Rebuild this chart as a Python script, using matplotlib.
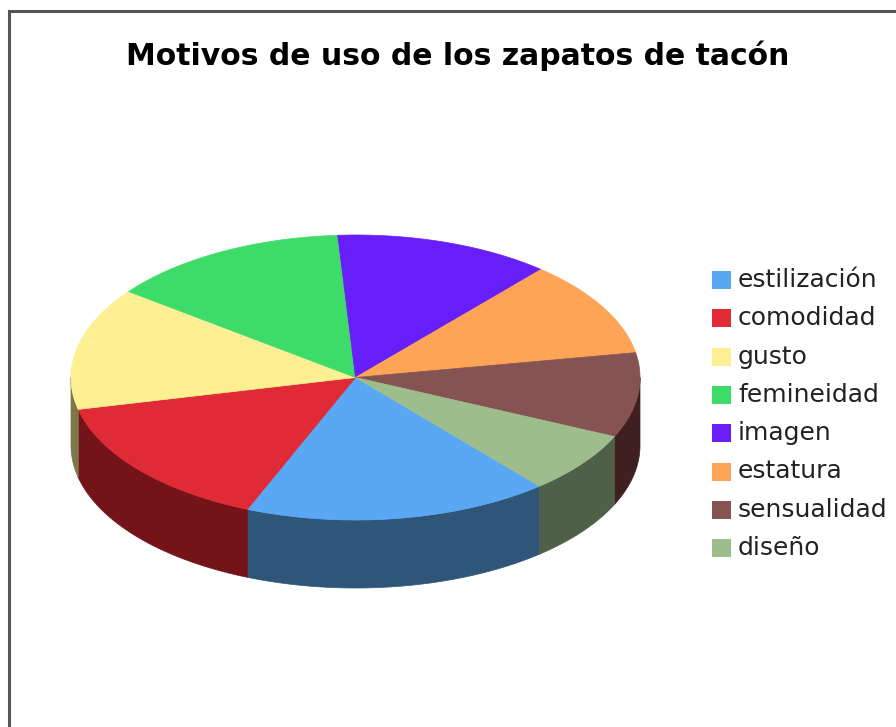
import matplotlib
matplotlib.use("Agg")
import matplotlib.pyplot as plt
import numpy as np
from matplotlib.patches import Polygon, Rectangle

# data (share, %)
labels = ["estilización", "comodidad", "gusto", "femineidad",
          "imagen", "estatura", "sensualidad", "diseño"]
values = [17.4, 15.2, 13.9, 13.7, 12.3, 10.9, 9.6, 7.0]

top_colors = ["#5aa8f4", "#e02a36", "#fdef92", "#3ddc68",
              "#671ef8", "#fda457", "#855352", "#9ebd8c"]
side_colors = ["#2f5679", "#741418", "#7d7646", "#1f7a3c",
               "#3a1090", "#8f5a2c", "#3f1f1f", "#4f6049"]

title = "Motivos de uso de los zapatos de tacón"

# geometry in pixel space
W, H = 896, 727
cx, cy = 355.5, 377.5
rx, ry = 284.5, 142.5
depth = 68
start = -49.7  # degrees, slices run clockwise


def pt(theta_deg, dy=0.0):
    t = np.radians(theta_deg)
    return cx + rx * np.cos(t), cy - ry * np.sin(t) + dy


fig = plt.figure(figsize=(W / 100, H / 100), dpi=100)
ax = fig.add_axes([0, 0, 1, 1])
ax.set_xlim(0, W)
ax.set_ylim(H, 0)
ax.axis("off")

# outer frame
ax.plot([9, 9, W + 5], [H + 5, 11, 11], color="#555555", lw=2.2,
        solid_capstyle="butt", solid_joinstyle="miter")

fracs = np.array(values, dtype=float) / sum(values)
edges = start - np.concatenate([[0], np.cumsum(fracs) * 360])

# side walls (front half only: angles where sin < 0)
for i in range(len(values)):
    a_hi, a_lo = edges[i], edges[i + 1]
    for shift in (-360, 0, 360):
        lo = max(a_lo + shift, -180)
        hi = min(a_hi + shift, 0)
        if hi <= lo:
            continue
        th = np.linspace(lo, hi, 80)
        upper = [pt(t) for t in th]
        lower = [pt(t, depth) for t in th[::-1]]
        ax.add_patch(Polygon(upper + lower, closed=True,
                             facecolor=side_colors[i], edgecolor=side_colors[i],
                             lw=0.5))

# top wedges
for i in range(len(values)):
    th = np.linspace(edges[i], edges[i + 1], 120)
    poly = [(cx, cy)] + [pt(t) for t in th]
    ax.add_patch(Polygon(poly, closed=True, facecolor=top_colors[i],
                         edgecolor=top_colors[i], lw=0.5))

ax.text(458, 56, title, ha="center", va="center", fontsize=21.5,
        fontweight="bold", color="black")

# legend
for i, lab in enumerate(labels):
    y = 280 + i * 38.3
    ax.add_patch(Rectangle((712, y - 9), 19, 18, facecolor=top_colors[i],
                           edgecolor="none"))
    ax.text(738, y, lab, ha="left", va="center", fontsize=18, color="#222222")

fig.savefig("out.png", dpi=100)
